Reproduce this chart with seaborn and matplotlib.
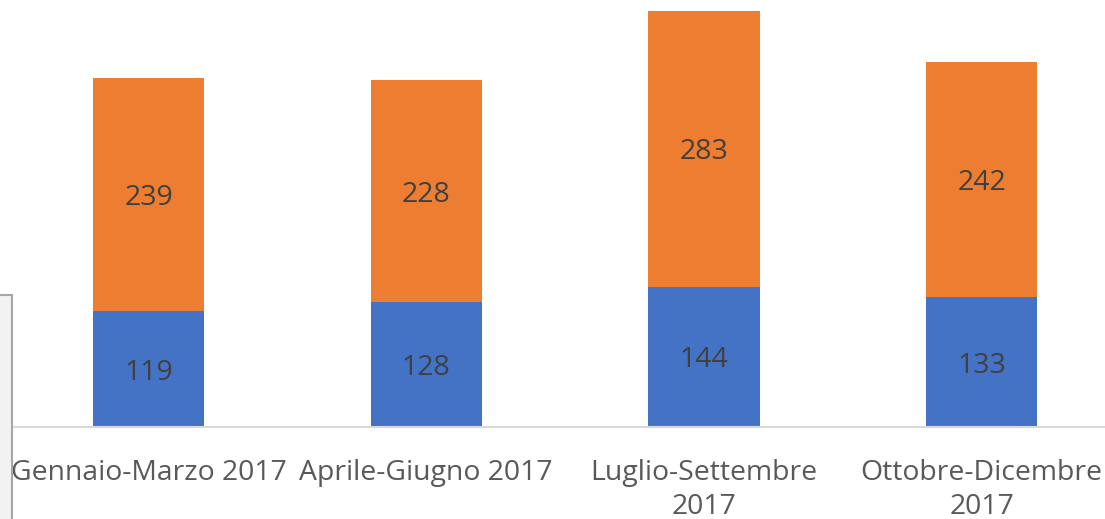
import matplotlib.pyplot as plt
from matplotlib.patches import Rectangle
import pandas as pd
import seaborn as sns

# quarters and the two stacked series
quarters = ['Gennaio-Marzo 2017', 'Aprile-Giugno 2017',
            'Luglio-Settembre\n2017', 'Ottobre-Dicembre\n2017']
blue_vals = [119, 128, 144, 133]
orange_vals = [239, 228, 283, 242]

df = pd.DataFrame({'quarter': quarters, 'blue': blue_vals, 'orange': orange_vals})
df['total'] = df.blue + df.orange

sns.set_style('white')
plt.rcParams['font.family'] = ['Open Sans', 'DejaVu Sans']

fig = plt.figure(figsize=(11.05, 5.19), dpi=100)
ax = fig.add_axes([12 / 1105, 1 - 427 / 519, 1 - 12 / 1105, 427 / 519])

# orange drawn at full height, blue laid over it -> stacked look
sns.barplot(data=df, x='quarter', y='total', color='#ED7D31', saturation=1,
            width=0.4, ax=ax, linewidth=0)
sns.barplot(data=df, x='quarter', y='blue', color='#4472C4', saturation=1,
            width=0.4, ax=ax, linewidth=0)

for i, row in df.iterrows():
    ax.text(i, row.blue / 2, str(row.blue), ha='center', va='center_baseline',
            fontsize=20.5, color='#404040')
    ax.text(i, row.blue + row.orange / 2, str(row.orange), ha='center',
            va='center_baseline', fontsize=20.5, color='#404040')

ax.set_xlim(-0.4915, 3.444)
ax.set_ylim(0, 438.3)
ax.set_xlabel('')
ax.set_ylabel('')
ax.set_yticks([])
ax.tick_params(axis='x', length=0, pad=23, labelsize=20.4, labelcolor='#595959')
for lbl in ax.get_xticklabels():
    lbl.set_linespacing(1.3)
for s in ['top', 'right', 'left']:
    ax.spines[s].set_visible(False)
ax.spines['bottom'].set_color('#D9D9D9')
ax.spines['bottom'].set_linewidth(1.5)

# cropped box at the left edge of the original picture
fig.patches.append(Rectangle((-5 / 1105, -5 / 519), 17 / 1105, 229 / 519,
                             transform=fig.transFigure, facecolor='#F2F2F2',
                             edgecolor='#A6A6A6', linewidth=1.5))

fig.savefig('out.png', dpi=100)
